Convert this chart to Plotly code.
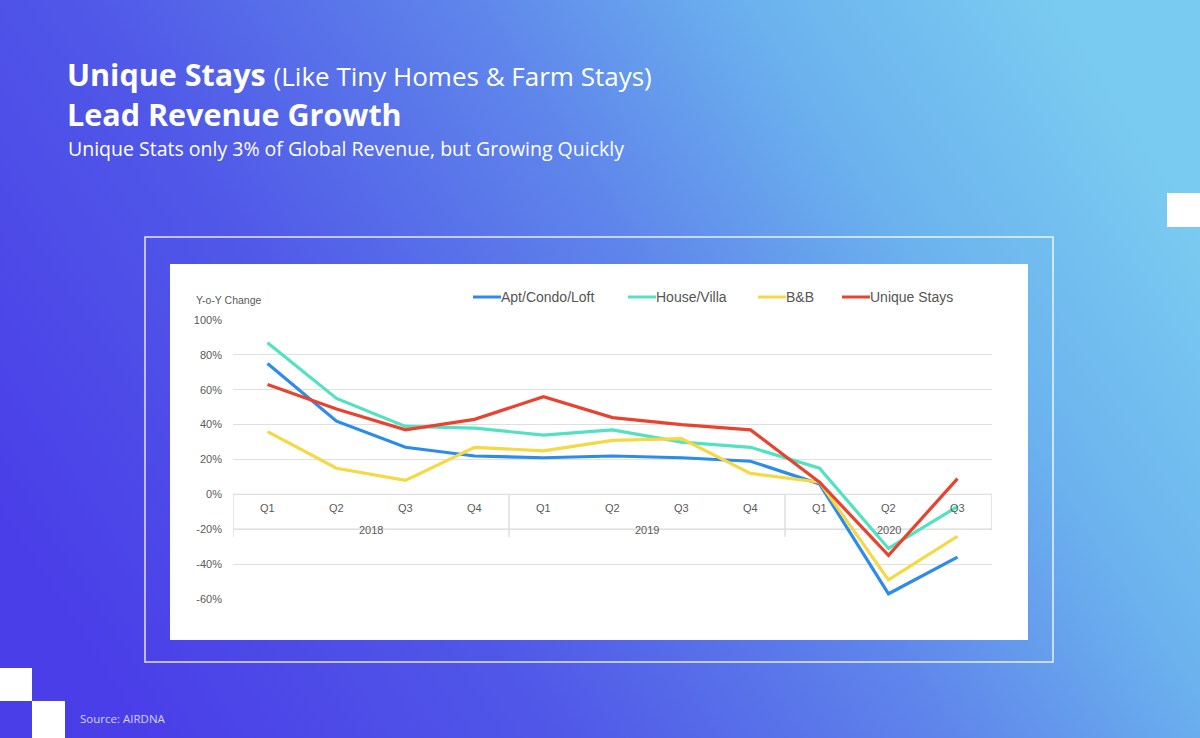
import base64
import plotly.graph_objects as go

# ---------------- data ----------------
quarters = ["Q1", "Q2", "Q3", "Q4", "Q1", "Q2", "Q3", "Q4", "Q1", "Q2", "Q3"]
years = ["2018", "2019", "2020"]
year_counts = [4, 4, 3]

apt = [75, 42, 27, 22, 21, 22, 21, 19, 6, -57, -36]
house = [87, 55, 39, 38, 34, 37, 30, 27, 15, -31, -7]
bnb = [36, 15, 8, 27, 25, 31, 32, 12, 7, -49, -24]
unique = [63, 49, 37, 43, 56, 44, 40, 37, 7, -35, 9]

series_names = ["Apt/Condo/Loft", "House/Villa", "B&B", "Unique Stays"]
series_values = [apt, house, bnb, unique]
series_colors = ["#2b8cec", "#52e2c2", "#f6d843", "#e8432f"]

y_ticks = [-60, -40, -20, 0, 20, 40, 60, 80, 100]
y_tick_text = ["-60%", "-40%", "-20%", "0%", "20%", "40%", "60%", "80%", "100%"]

# ---------------- layout helpers ----------------
W, H = 1200, 738


def px_x(p):
    return p / W


def px_y(p):
    return 1 - p / H


svg = (
    "<svg xmlns='http://www.w3.org/2000/svg' width='1200' height='738' preserveAspectRatio='none'>"
    "<defs><linearGradient id='g' x1='0' y1='0.7' x2='1' y2='0.3'>"
    "<stop offset='0' stop-color='#4a3ee8'/>"
    "<stop offset='0.3' stop-color='#5058e8'/>"
    "<stop offset='0.58' stop-color='#5f86eb'/>"
    "<stop offset='0.78' stop-color='#6bb2ee'/>"
    "<stop offset='1' stop-color='#7acbf1'/>"
    "</linearGradient></defs>"
    "<rect width='1200' height='738' fill='url(#g)'/></svg>"
)
bg_src = "data:image/svg+xml;base64," + base64.b64encode(svg.encode()).decode()

fig = go.Figure()

x_idx = list(range(len(quarters)))
for name, vals, col in zip(series_names, series_values, series_colors):
    fig.add_trace(go.Scatter(
        x=x_idx, y=vals, mode="lines", name=name,
        line=dict(color=col, width=3.2), hoverinfo="skip", showlegend=False,
    ))

shapes = []
# outer frame
shapes.append(dict(type="rect", xref="paper", yref="paper",
                   x0=px_x(145), x1=px_x(1053), y0=px_y(662), y1=px_y(237),
                   line=dict(color="rgba(255,255,255,0.85)", width=1.5),
                   fillcolor="rgba(0,0,0,0)", layer="below"))
# white chart card
shapes.append(dict(type="rect", xref="paper", yref="paper",
                   x0=px_x(170), x1=px_x(1028), y0=px_y(640), y1=px_y(264),
                   line=dict(width=0), fillcolor="white", layer="below"))
# decorative squares
for (a, b, c, d) in [(1167, 193, 1200, 227), (0, 668, 32, 701), (32, 701, 65, 738)]:
    shapes.append(dict(type="rect", xref="paper", yref="paper",
                       x0=px_x(a), x1=px_x(c), y0=px_y(d), y1=px_y(b),
                       line=dict(width=0), fillcolor="white", layer="below"))

# category box on the axis
box_col = "#dadada"
n = len(quarters)
shapes.append(dict(type="line", xref="x", yref="y", x0=-0.5, x1=n - 0.5, y0=0, y1=0,
                   line=dict(color=box_col, width=1.3), layer="below"))
shapes.append(dict(type="line", xref="x", yref="y", x0=-0.5, x1=n - 0.5, y0=-20, y1=-20,
                   line=dict(color=box_col, width=1.3), layer="below"))
bounds = [-0.5]
acc = -0.5
for c in year_counts:
    acc += c
    bounds.append(acc)
for i, b in enumerate(bounds):
    shapes.append(dict(type="line", xref="x", yref="y", x0=b, x1=b, y0=0,
                       y1=-20 if i == len(bounds) - 1 else -24.5,
                       line=dict(color=box_col, width=1.3), layer="below"))

annotations = []
lab_font = dict(family="Liberation Sans, Arial", size=11, color="#5a5a5a")
for i, q in enumerate(quarters):
    annotations.append(dict(x=i, y=0, xref="x", yref="y", text=q, showarrow=False,
                            yshift=-14, font=lab_font, xanchor="center", yanchor="middle"))
start = 0
for yr, c in zip(years, year_counts):
    annotations.append(dict(x=start + (c - 1) / 2, y=-20, xref="x", yref="y", text=yr,
                            showarrow=False, font=lab_font, xanchor="center",
                            yanchor="middle", yshift=-1))
    start += c

annotations.append(dict(x=px_x(194), y=px_y(300), xref="paper", yref="paper",
                        text="Y-o-Y Change", showarrow=False, xanchor="left",
                        yanchor="middle", font=dict(family="Liberation Sans, Arial",
                                                    size=10.5, color="#5a5a5a")))

# manual legend
leg_line_x = [473, 628, 758, 842]
for name, col, lx in zip(series_names, series_colors, leg_line_x):
    shapes.append(dict(type="line", xref="paper", yref="paper",
                       x0=px_x(lx), x1=px_x(lx + 28), y0=px_y(297), y1=px_y(297),
                       line=dict(color=col, width=3)))
    annotations.append(dict(x=px_x(lx + 28), y=px_y(297), xref="paper", yref="paper",
                            text=name, showarrow=False, xanchor="left", yanchor="middle",
                            xshift=-2,
                            font=dict(family="Liberation Sans, Arial", size=14,
                                      color="#555555")))

# titles
title_font = "Open Sans"
annotations.append(dict(
    x=px_x(65), y=px_y(94), xref="paper", yref="paper", xanchor="left", yanchor="middle",
    align="left", showarrow=False,
    text=("<b>Unique Stays</b> <span style='font-size:26px'>(Like Tiny Homes &amp; Farm Stays)</span>"
          "<br><b>Lead Revenue Growth</b>"),
    font=dict(family=title_font, size=30.5, color="white")))
annotations.append(dict(
    x=px_x(66), y=px_y(148), xref="paper", yref="paper", xanchor="left", yanchor="middle",
    showarrow=False, text="Unique Stats only 3% of Global Revenue, but Growing Quickly",
    font=dict(family=title_font, size=19.5, color="white")))
annotations.append(dict(
    x=px_x(78), y=px_y(718), xref="paper", yref="paper", xanchor="left", yanchor="middle",
    showarrow=False, text="Source: AIRDNA",
    font=dict(family=title_font, size=11.5, color="#d4d2ff")))

fig.update_layout(
    width=W, height=H,
    margin=dict(l=0, r=0, t=0, b=0, pad=0, autoexpand=False),
    paper_bgcolor="#4a3ee8",
    plot_bgcolor="rgba(0,0,0,0)",
    images=[dict(source=bg_src, xref="paper", yref="paper", x=0, y=1, sizex=1, sizey=1,
                 xanchor="left", yanchor="top", sizing="stretch", layer="below")],
    shapes=shapes,
    annotations=annotations,
    showlegend=False,
    xaxis=dict(domain=[px_x(233), px_x(992)], range=[-0.5, n - 0.5], visible=False,
               showgrid=False, zeroline=False, fixedrange=True, automargin=False),
    yaxis=dict(domain=[px_y(599), px_y(320)], range=[-60, 100], tickvals=y_ticks,
               ticktext=y_tick_text, showgrid=True, gridcolor="#e0e0e0", gridwidth=1.2,
               zeroline=False, showline=False, ticks="", ticklabelstandoff=10,
               automargin=False,
               tickfont=dict(family="Liberation Sans, Arial", size=11, color="#5a5a5a")),
)

fig.write_html("out.html")
